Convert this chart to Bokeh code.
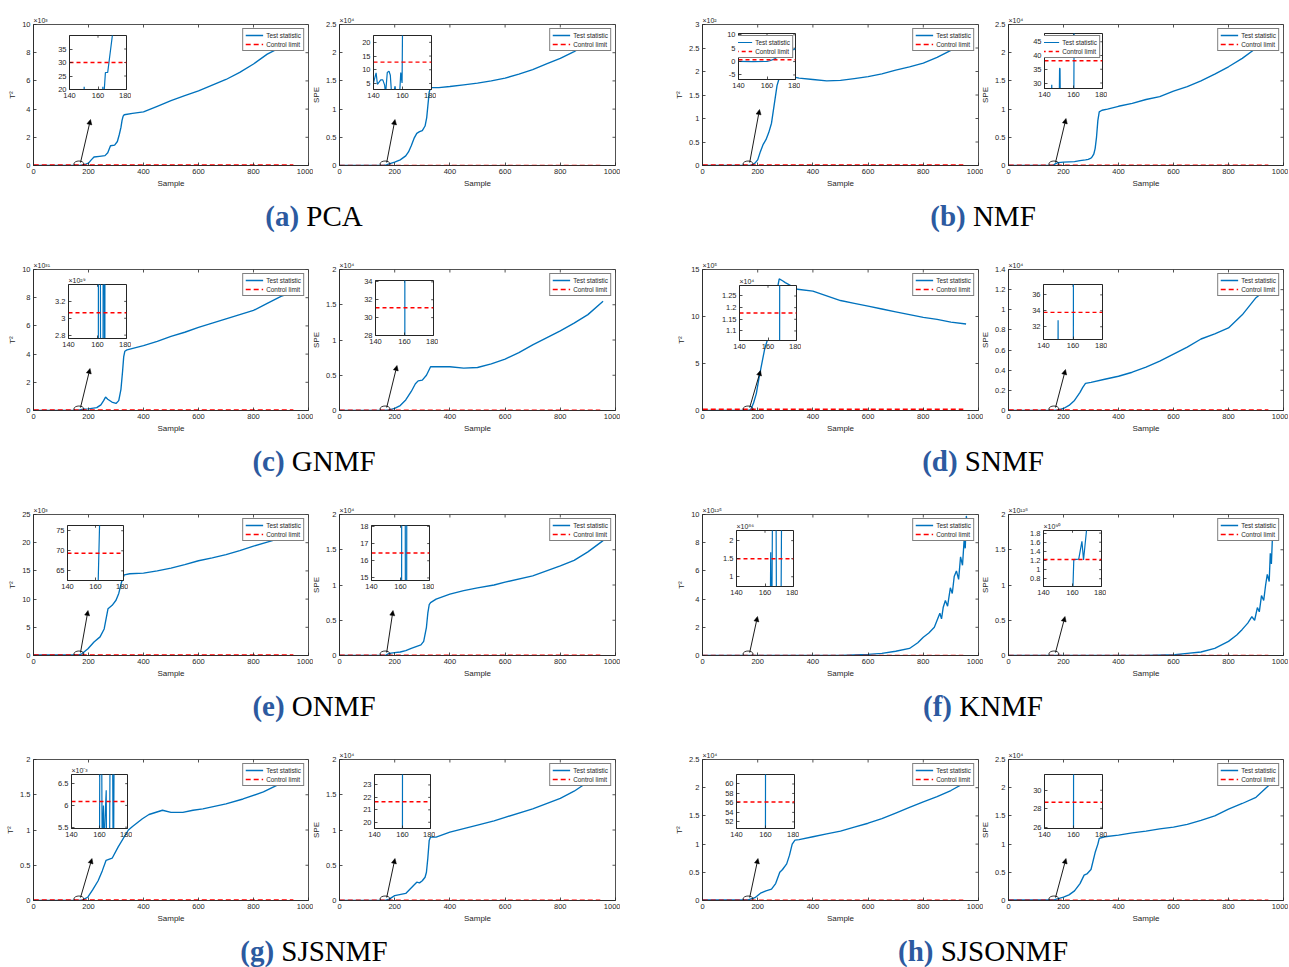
from bokeh.plotting import figure
from bokeh.models import (GridBox, Div, Range1d, FixedTicker, CustomJSTickFormatter,
                          Arrow, NormalHead, LinearAxis, Legend, LegendItem)
from bokeh.embed import file_html
from bokeh.resources import INLINE

try:
    from bokeh.models import GlobalInlineStyleSheet
except Exception:
    GlobalInlineStyleSheet = None

FONT = "Liberation Sans"
BLUE = "#0072BD"
RED = "#FF0000"
DARK = "#262626"

# ---------------- data ----------------
sample_ticks = [0, 200, 400, 600, 800, 1000]
inset_x_ticks = [140, 160, 180]
zoom_x = 165

captions = ["PCA", "NMF", "GNMF", "SNMF", "ONMF", "KNMF", "SJSNMF", "SJSONMF"]
caption_letters = ["(a)", "(b)", "(c)", "(d)", "(e)", "(f)", "(g)", "(h)"]

# (a) PCA
a_t2_x = [1, 160, 170, 180, 190, 200, 210, 220, 240, 260, 270, 280, 295, 305, 312, 318, 322, 326, 330, 360, 400, 450, 500, 550, 600, 650, 700, 750, 800, 850, 900, 960]
a_t2_y = [0, 0, 0.02, 0.05, 0.1, 0.17, 0.4, 0.6, 0.65, 0.7, 0.9, 1.4, 1.45, 1.7, 2.2, 2.7, 3.2, 3.5, 3.6, 3.7, 3.8, 4.2, 4.6, 4.95, 5.3, 5.7, 6.1, 6.6, 7.2, 7.9, 8.4, 9.4]
a_spe_x = [1, 160, 170, 180, 200, 220, 240, 250, 260, 270, 280, 290, 300, 310, 316, 320, 325, 330, 360, 400, 450, 500, 550, 600, 650, 700, 750, 800, 850, 900, 960]
a_spe_y = [0, 0, 0.01, 0.03, 0.06, 0.1, 0.17, 0.24, 0.35, 0.48, 0.57, 0.6, 0.62, 0.7, 0.85, 1.05, 1.3, 1.38, 1.38, 1.4, 1.43, 1.46, 1.5, 1.55, 1.62, 1.7, 1.8, 1.9, 2.02, 2.17, 2.32]
a_t2_in_x = [140, 150.1, 150.3, 150.5, 163.2, 163.4, 163.6, 163.8, 165.2, 166.8, 170.2]
a_t2_in_y = [15, 15, 21, 15, 15, 21, 15, 15, 26.3, 26.3, 40.5]
a_spe_in_x = [140, 141.8, 142.7, 145, 146.4, 147.7, 148.3, 149.5, 150.7, 151.6, 152.5, 153.5, 154.9, 155.5, 158, 158.8, 159.7, 160.1]
a_spe_in_y = [5.2, 8.9, 4.7, 6.3, 6.3, 4.4, 1, 9, 9.5, 8, 1, 1, 4, 1, 1, 9, 5.2, 30]

# (b) NMF
b_t2_x = [1, 170, 180, 190, 200, 210, 220, 230, 240, 250, 260, 270, 280, 290, 300, 350, 400, 450, 500, 550, 600, 650, 700, 750, 800, 850, 900, 960]
b_t2_y = [0.002, 0.002, 0.01, 0.05, 0.12, 0.3, 0.45, 0.55, 0.7, 0.9, 1.3, 1.7, 1.9, 1.95, 1.92, 1.86, 1.83, 1.8, 1.81, 1.85, 1.89, 1.95, 2.03, 2.1, 2.18, 2.3, 2.45, 2.62]
b_spe_x = [1, 160, 170, 180, 200, 220, 240, 260, 280, 290, 300, 305, 310, 315, 320, 325, 330, 340, 360, 400, 450, 500, 550, 600, 650, 700, 750, 800, 850, 900, 960]
b_spe_y = [0, 0, 0.03, 0.05, 0.06, 0.065, 0.07, 0.085, 0.1, 0.11, 0.13, 0.16, 0.2, 0.3, 0.5, 0.8, 0.95, 0.98, 1.0, 1.05, 1.1, 1.17, 1.22, 1.32, 1.4, 1.5, 1.62, 1.75, 1.9, 2.08, 2.32]
b_t2_in_x = [140, 150, 160, 162, 165, 168, 170.5, 172, 174, 175, 176, 177, 179, 180]
b_t2_in_y = [0.1, 0, 0.05, 0.3, 0.9, 2, 2.7, 3.2, 3.6, 4, 3.1, 4.5, 4.5, 5]
b_spe_in_x = [140, 144.8, 145, 145.2, 150.1, 150.4, 150.7, 151, 160.2, 160.5, 180]
b_spe_in_y = [20, 20, 29.4, 20, 20, 35.3, 35.3, 20, 20, 60, 300]

# (c) GNMF
c_t2_x = [1, 160, 180, 200, 230, 245, 255, 262, 270, 285, 300, 310, 318, 324, 328, 332, 340, 400, 450, 500, 550, 600, 650, 700, 750, 800, 850, 900, 960]
c_t2_y = [0, 0, 0.1, 0.12, 0.2, 0.4, 0.7, 0.95, 0.8, 0.6, 0.5, 0.7, 1.5, 2.8, 3.8, 4.2, 4.3, 4.6, 4.9, 5.25, 5.55, 5.9, 6.2, 6.5, 6.8, 7.1, 7.6, 8.1, 8.5]
c_spe_x = [1, 160, 180, 200, 220, 240, 260, 275, 285, 300, 315, 330, 350, 400, 450, 500, 550, 600, 650, 700, 750, 800, 850, 900, 955]
c_spe_y = [0, 0, 0.01, 0.03, 0.07, 0.15, 0.27, 0.38, 0.42, 0.43, 0.5, 0.62, 0.62, 0.62, 0.6, 0.61, 0.66, 0.73, 0.82, 0.93, 1.03, 1.13, 1.24, 1.36, 1.55]
c_t2_in_x = [140, 160.5, 160.7, 161.9, 162.2, 163.7, 164.0, 164.5, 165.0, 165.2, 180]
c_t2_in_y = [1.0, 1.0, 5.0, 5.0, 1.0, 1.0, 5.0, 5.0, 1.0, 5.0, 5.0]
c_spe_in_x = [140, 160.2, 160.5, 180]
c_spe_in_y = [10, 10, 200, 300]

# (d) SNMF
d_t2_x = [1, 165, 175, 185, 195, 205, 217, 225, 235, 250, 265, 278, 290, 300, 344, 400, 450, 500, 550, 600, 650, 700, 750, 800, 850, 900, 955]
d_t2_y = [0.02, 0.02, 0.1, 0.8, 1.8, 3.5, 5.3, 6.5, 7.5, 9.5, 12, 14.0, 13.8, 13.6, 12.9, 12.7, 12.2, 11.7, 11.4, 11.1, 10.8, 10.5, 10.2, 9.9, 9.7, 9.4, 9.2]
d_spe_x = [1, 165, 180, 200, 220, 240, 260, 270, 280, 300, 350, 400, 450, 500, 550, 600, 650, 700, 750, 800, 850, 900, 955]
d_spe_y = [0, 0, 0.005, 0.02, 0.05, 0.1, 0.18, 0.23, 0.27, 0.28, 0.31, 0.34, 0.38, 0.43, 0.49, 0.56, 0.63, 0.71, 0.76, 0.82, 0.95, 1.12, 1.24]
d_t2_in_x = [140, 168.1, 168.4, 180]
d_t2_in_y = [0.5, 0.5, 3, 6]
d_spe_in_x = [140, 149.7, 149.9, 150.1, 160.2, 160.5, 180]
d_spe_in_y = [20, 20, 32.8, 20, 20, 80, 300]

# (e) ONMF
e_t2_x = [1, 165, 176, 198, 220, 242, 257, 271, 286, 300, 310, 320, 330, 350, 400, 450, 500, 550, 600, 650, 700, 750, 800, 850, 900, 955]
e_t2_y = [0.1, 0.1, 0.3, 1.2, 2.4, 3.3, 4.7, 8.3, 8.9, 9.8, 11, 13, 14.3, 14.5, 14.6, 15.0, 15.5, 16.1, 16.8, 17.3, 17.9, 18.6, 19.4, 20.1, 20.8, 21.7]
e_spe_x = [1, 165, 180, 200, 220, 240, 260, 280, 295, 305, 315, 320, 325, 330, 350, 400, 450, 500, 560, 600, 700, 800, 850, 900, 955]
e_spe_y = [0, 0, 0.03, 0.04, 0.05, 0.07, 0.1, 0.13, 0.15, 0.2, 0.4, 0.6, 0.72, 0.75, 0.8, 0.87, 0.92, 0.96, 1.0, 1.04, 1.13, 1.27, 1.35, 1.47, 1.63]
e_t2_in_x = [140, 161.4, 163.3, 180]
e_t2_in_y = [50, 55, 82, 400]
e_spe_in_x = [140, 160.7, 160.9, 163.2, 163.4, 164.2, 164.4, 180]
e_spe_in_y = [10, 10, 25, 25, 10, 10, 25, 25]

# (f) KNMF
f_t2_x = [1, 500, 600, 650, 700, 750, 780, 800, 820, 840, 850, 860, 866, 872, 880, 888, 898, 905, 912, 920, 928, 935, 942, 948, 952, 956, 960]
f_t2_y = [0, 0, 0.08, 0.15, 0.3, 0.5, 0.9, 1.3, 1.6, 2.0, 2.5, 3.0, 2.6, 3.4, 3.9, 3.5, 4.8, 4.4, 5.6, 6.0, 5.4, 7.0, 6.4, 8.2, 7.6, 9.9, 9.0]
f_spe_x = [1, 500, 605, 650, 700, 750, 800, 830, 850, 870, 885, 895, 905, 912, 920, 928, 935, 941, 948, 952, 956, 960]
f_spe_y = [0, 0, 0.01, 0.03, 0.05, 0.1, 0.2, 0.29, 0.37, 0.46, 0.55, 0.5, 0.68, 0.62, 0.85, 0.78, 1.0, 1.15, 1.05, 1.45, 1.3, 1.7]
f_t2_in_x = [140, 163.8, 164.0, 164.2, 164.9, 165.2, 167.8, 168.0, 171.3, 171.6, 180]
f_t2_in_y = [0.5, 0.5, 1.68, 0.5, 0.5, 2.5, 2.5, 0.5, 0.5, 2.5, 2.5]
f_spe_in_x = [140, 160.0, 160.9, 164.3, 166.5, 167.6, 169.8, 180]
f_spe_in_y = [0.3, 0.3, 1.22, 1.23, 1.62, 1.21, 1.9, 2.5]

# (g) SJSNMF
g_t2_x = [1, 165, 180, 198, 215, 235, 250, 264, 286, 308, 345, 360, 396, 420, 469, 500, 543, 580, 616, 700, 762, 836, 909, 955]
g_t2_y = [0, 0, 0.01, 0.05, 0.15, 0.28, 0.42, 0.57, 0.6, 0.76, 1.0, 1.05, 1.16, 1.22, 1.28, 1.25, 1.25, 1.28, 1.3, 1.37, 1.44, 1.54, 1.68, 1.88]
g_spe_x = [1, 165, 180, 200, 240, 270, 280, 290, 300, 310, 315, 320, 325, 330, 350, 400, 450, 500, 560, 600, 700, 800, 850, 900, 955]
g_spe_y = [0, 0, 0.02, 0.07, 0.1, 0.22, 0.26, 0.25, 0.28, 0.33, 0.4, 0.6, 0.85, 0.9, 0.9, 0.97, 1.02, 1.07, 1.13, 1.18, 1.3, 1.45, 1.55, 1.68, 1.84]
g_t2_in_x = [140, 160.0, 160.2, 161.6, 161.9, 162.8, 163.0, 164.8, 165.0, 167.2, 167.5, 169.4, 169.7, 170.1, 170.4, 180]
g_t2_in_y = [5.0, 5.0, 7.0, 7.0, 5.0, 6.0, 5.0, 6.35, 5.0, 5.0, 7.0, 7.0, 5.0, 5.0, 7.0, 7.0]
g_spe_in_x = [140, 159.9, 160.1, 180]
g_spe_in_y = [10, 10, 40, 300]

# (h) SJSONMF
h_t2_x = [1, 165, 190, 210, 230, 250, 265, 280, 290, 305, 315, 325, 335, 350, 400, 450, 500, 550, 600, 650, 700, 750, 800, 850, 900, 955]
h_t2_y = [0.01, 0.01, 0.05, 0.13, 0.17, 0.2, 0.3, 0.5, 0.55, 0.65, 0.8, 1.0, 1.07, 1.08, 1.13, 1.18, 1.23, 1.3, 1.37, 1.45, 1.55, 1.65, 1.75, 1.84, 1.95, 2.1]
h_spe_x = [1, 165, 200, 220, 240, 260, 275, 285, 300, 315, 325, 330, 350, 400, 450, 500, 550, 600, 650, 700, 750, 800, 850, 900, 955]
h_spe_y = [0.01, 0.01, 0.06, 0.1, 0.17, 0.3, 0.45, 0.47, 0.55, 0.85, 1.0, 1.1, 1.13, 1.16, 1.2, 1.23, 1.27, 1.3, 1.35, 1.42, 1.5, 1.62, 1.72, 1.83, 2.08]
h_t2_in_x = [140, 159.9, 160.1, 180]
h_t2_in_y = [30, 30, 90, 300]
h_spe_in_x = [140, 159.9, 160.1, 180]
h_spe_in_y = [10, 10, 40, 300]

# control limits (inset units)
limits = {"a_t2": 30, "a_spe": 12.8, "b_t2": 0.7, "b_spe": 38.1, "c_t2": 3.065, "c_spe": 31.1,
          "d_t2": 1.177, "d_spe": 33.8, "e_t2": 69.4, "e_spe": 16.45, "f_t2": 1.5, "f_spe": 1.22,
          "g_t2": 6.09, "g_spe": 21.65, "h_t2": 56.2, "h_spe": 28.7}

# ---------------- layout spec ----------------
row_tops = [24, 269, 514, 759]
col_frames = {"L_t2": (33, 308), "L_spe": (339, 615), "R_t2": (702, 978), "R_spe": (1008, 1283)}


def P(key, stat, col, row, ymax, yticks, exp, x, y, inset, iyr, iyticks, iexp, ix, iy, ileg=False):
    l, r = col_frames[col]
    t = row_tops[row]
    return dict(key=key, stat=stat, frame=(l, t, r, t + 141), ymax=ymax, yticks=yticks, exp=exp,
                x=x, y=y, inset=inset, iyr=iyr, iyticks=iyticks, iexp=iexp, ix=ix, iy=iy, ileg=ileg)


T2 = "T²"
panels = [
    P("a_t2", T2, "L_t2", 0, 10, [0, 2, 4, 6, 8, 10], 3, a_t2_x, a_t2_y, (53, 33, 127, 105), (20, 40), [20, 25, 30, 35], 0, a_t2_in_x, a_t2_in_y),
    P("a_spe", "SPE", "L_spe", 0, 2.5, [0, 0.5, 1, 1.5, 2, 2.5], 4, a_spe_x, a_spe_y, (357, 33, 432, 105), (2.8, 22.5), [5, 10, 15, 20], 0, a_spe_in_x, a_spe_in_y),
    P("b_t2", T2, "R_t2", 0, 3, [0, 0.5, 1, 1.5, 2, 2.5, 3], 2, b_t2_x, b_t2_y, (722, 31, 796, 95), (-6.7, 10.5), [-5, 0, 5, 10], 0, b_t2_in_x, b_t2_in_y, True),
    P("b_spe", "SPE", "R_spe", 0, 2.5, [0, 0.5, 1, 1.5, 2, 2.5], 4, b_spe_x, b_spe_y, (1028, 31, 1103, 104), (28, 48), [30, 35, 40, 45], 0, b_spe_in_x, b_spe_in_y, True),
    P("c_t2", T2, "L_t2", 1, 10, [0, 2, 4, 6, 8, 10], 31, c_t2_x, c_t2_y, (52, 282, 127, 354), (2.76, 3.4), [2.8, 3, 3.2], 29, c_t2_in_x, c_t2_in_y),
    P("c_spe", "SPE", "L_spe", 1, 2, [0, 0.5, 1, 1.5, 2], 4, c_spe_x, c_spe_y, (359, 278, 434, 351), (28, 34.15), [28, 30, 32, 34], 0, c_spe_in_x, c_spe_in_y),
    P("d_t2", T2, "R_t2", 1, 15, [0, 5, 10, 15], 5, d_t2_x, d_t2_y, (723, 283, 797, 356), (1.059, 1.295), [1.1, 1.15, 1.2, 1.25], 4, d_t2_in_x, d_t2_in_y),
    P("d_spe", "SPE", "R_spe", 1, 1.4, [0, 0.2, 0.4, 0.6, 0.8, 1, 1.2, 1.4], 4, d_spe_x, d_spe_y, (1027, 282, 1103, 355), (30.4, 37.3), [32, 34, 36], 0, d_spe_in_x, d_spe_in_y),
    P("e_t2", T2, "L_t2", 2, 25, [0, 5, 10, 15, 20, 25], 3, e_t2_x, e_t2_y, (51, 523, 124, 596), (62.6, 76.3), [65, 70, 75], 0, e_t2_in_x, e_t2_in_y),
    P("e_spe", "SPE", "L_spe", 2, 2, [0, 0.5, 1, 1.5, 2], 4, e_spe_x, e_spe_y, (355, 523, 430, 596), (14.85, 18.05), [15, 16, 17, 18], 0, e_spe_in_x, e_spe_in_y),
    P("f_t2", T2, "R_t2", 2, 10, [0, 2, 4, 6, 8, 10], 125, f_t2_x, f_t2_y, (720, 528, 794, 602), (0.73, 2.28), [1, 1.5, 2], 86, f_t2_in_x, f_t2_in_y),
    P("f_spe", "SPE", "R_spe", 2, 2, [0, 0.5, 1, 1.5, 2], 128, f_spe_x, f_spe_y, (1027, 528, 1102, 602), (0.63, 1.857), [0.8, 1, 1.2, 1.4, 1.6, 1.8], 90, f_spe_in_x, f_spe_in_y),
    P("g_t2", T2, "L_t2", 3, 2, [0, 0.5, 1, 1.5, 2], 0, g_t2_x, g_t2_y, (55, 772, 128, 844), (5.47, 6.71), [5.5, 6, 6.5], -3, g_t2_in_x, g_t2_in_y),
    P("g_spe", "SPE", "L_spe", 3, 2, [0, 0.5, 1, 1.5, 2], 4, g_spe_x, g_spe_y, (358, 772, 431, 844), (19.5, 23.84), [20, 21, 22, 23], 0, g_spe_in_x, g_spe_in_y),
    P("h_t2", T2, "R_t2", 3, 2.5, [0, 0.5, 1, 1.5, 2, 2.5], 4, h_t2_x, h_t2_y, (720, 772, 795, 844), (50.6, 62), [52, 54, 56, 58, 60], 0, h_t2_in_x, h_t2_in_y),
    P("h_spe", "SPE", "R_spe", 3, 2.5, [0, 0.5, 1, 1.5, 2, 2.5], 4, h_spe_x, h_spe_y, (1028, 772, 1103, 844), (25.87, 31.7), [26, 28, 30], 0, h_spe_in_x, h_spe_in_y),
]

SUP = str.maketrans("-0123456789", "⁻⁰¹²³⁴⁵⁶⁷⁸⁹")


def sup(n):
    if n == 0:
        return ""
    return "×10" + str(n).translate(SUP)


def style_axis(ax, ticks, label=None):
    ax.ticker = FixedTicker(ticks=ticks)
    ax.formatter = CustomJSTickFormatter(code="return String(tick);")
    ax.major_tick_in = 3
    ax.major_tick_out = 0
    ax.minor_tick_in = 0
    ax.minor_tick_out = 0
    ax.axis_line_color = DARK
    ax.axis_line_width = 0.8
    ax.major_tick_line_color = DARK
    ax.major_tick_line_width = 0.8
    ax.major_label_text_font = FONT
    ax.major_label_text_color = DARK
    ax.major_label_text_font_size = "7.5px"
    ax.major_label_standoff = 3
    if label:
        ax.axis_label = label
        ax.axis_label_text_font = FONT
        ax.axis_label_text_font_size = "8px"
        ax.axis_label_text_font_style = "normal"
        ax.axis_label_text_color = DARK
        ax.axis_label_standoff = 2


def boxed_figure(w, h, xr, yr, borders):
    BL, BR, BT, BB = borders
    p = figure(width=w + BL + BR, height=h + BT + BB, x_range=Range1d(*xr), y_range=Range1d(*yr),
               output_backend="svg", toolbar_location=None, x_axis_type=None, y_axis_type=None,
               min_border_left=BL, min_border_right=BR, min_border_top=BT, min_border_bottom=BB,
               border_fill_color=None, background_fill_color="white",
               outline_line_color=DARK, outline_line_width=0.8)
    return p


def add_axes(p, xr, yr, w, h, xticks, yticks, ylabel=None, xlabel=None):
    bx = LinearAxis()
    style_axis(bx, xticks, xlabel)
    p.add_layout(bx, "below")
    ly = LinearAxis()
    style_axis(ly, yticks, ylabel)
    p.add_layout(ly, "left")
    # inward tick marks on the top and right edges of the box
    dy = 3.0 / h * (yr[1] - yr[0])
    dx = 3.0 / w * (xr[1] - xr[0])
    p.segment(x0=xticks, x1=xticks, y0=[yr[1]] * len(xticks), y1=[yr[1] - dy] * len(xticks),
              line_color=DARK, line_width=0.8)
    p.segment(x0=[xr[1]] * len(yticks), x1=[xr[1] - dx] * len(yticks), y0=yticks, y1=yticks,
              line_color=DARK, line_width=0.8)


def set_title(p, text):
    if not text:
        p.title.visible = False
        return
    p.title.text = text
    p.title.align = "left"
    p.title.text_font = FONT
    p.title.text_font_size = "7px"
    p.title.text_font_style = "normal"
    p.title.text_color = DARK
    p.title.standoff = 1
    p.title.offset = 0


def make_legend(r1, r2, margin):
    return Legend(items=[LegendItem(label="Test statistic", renderers=[r1]),
                         LegendItem(label="Control limit", renderers=[r2])],
                  location="top_right", label_text_font=FONT, label_text_font_size="6.4px",
                  label_text_color=DARK, glyph_width=18, glyph_height=8, label_height=8,
                  spacing=1, padding=2, margin=margin, label_standoff=3,
                  border_line_color="black", border_line_width=0.8, background_fill_alpha=1)


mains = []
insets = []
for pn in panels:
    fl, ft, fr, fb = pn["frame"]
    fh = fb - ft
    fw = fr - fl
    BLm, BRm, BTm, BBm = 40, 5, 14, 30
    xr = (0, 1000)
    yr = (0, pn["ymax"])
    p = boxed_figure(fw, fh, xr, yr, (BLm, BRm, BTm, BBm))
    p.margin = (ft - BTm, 0, 0, fl - BLm)
    add_axes(p, xr, yr, fw, fh, sample_ticks, pn["yticks"], ylabel=pn["stat"], xlabel="Sample")
    set_title(p, sup(pn["exp"]))
    lim_main = limits[pn["key"]] * 10.0 ** (pn["iexp"] - pn["exp"])
    r1 = p.line(pn["x"], pn["y"], line_color=BLUE, line_width=1.35)
    r2 = p.line([1, 945], [lim_main, lim_main], line_color=RED, line_width=1.6, line_dash="5 3")
    p.ellipse(x=[zoom_x], y=[1.5 / fh * pn["ymax"]], width=10, height=6,
              width_units="screen", height_units="screen",
              fill_color=None, line_color="black", line_width=0.8)
    il, it, ir, ib = pn["inset"]
    tip_x = (il + ir) / 2.0
    tip_y = ib + 14
    p.add_layout(Arrow(end=NormalHead(size=5, fill_color="black", line_color="black", line_width=0.5),
                       x_start=171, y_start=3.0 / fh * pn["ymax"],
                       x_end=(tip_x - fl) / fw * 1000.0, y_end=(fb - tip_y) / fh * pn["ymax"],
                       line_color="black", line_width=0.9))
    p.add_layout(make_legend(r1, r2, 4))
    mains.append(p)

    # inset
    BLi, BRi, BTi, BBi = 24, 4, 12, 14
    iw = ir - il
    ih = ib - it
    q = boxed_figure(iw, ih, (140, 180), pn["iyr"], (BLi, BRi, BTi, BBi))
    q.outline_line_width = 1.0
    q.margin = (it - BTi, 0, 0, il - BLi)
    add_axes(q, (140, 180), pn["iyr"], iw, ih, inset_x_ticks, pn["iyticks"])
    set_title(q, sup(pn["iexp"]))
    lim = limits[pn["key"]]
    s1 = q.line(pn["ix"], pn["iy"], line_color=BLUE, line_width=1.2)
    s2 = q.line([140, 180], [lim, lim], line_color=RED, line_width=1.4, line_dash="4 3")
    if pn["ileg"]:
        q.add_layout(make_legend(s1, s2, 2))
    insets.append(q)

divs = []
for i, (let, name) in enumerate(zip(caption_letters, captions)):
    row = i // 2
    cx = 314 if i % 2 == 0 else 983
    top = 201 + 245 * row
    html = ('<div style="width:400px;font-family:\'Liberation Serif\',\'Times New Roman\',serif;font-size:29px;'
            'line-height:30px;text-align:center;color:#000;white-space:nowrap">'
            '<span style="color:#2c5aa0;font-weight:bold">%s</span> %s</div>' % (let, name))
    d = Div(text=html, width=400, height=30, margin=(top, 0, 0, cx - 200))
    divs.append(d)

children = [(c, 0, 0) for c in mains + insets + divs]
root = GridBox(children=children, width=1289, height=967)
if GlobalInlineStyleSheet is not None:
    root.stylesheets = [GlobalInlineStyleSheet(css="html,body{margin:0;padding:0;overflow:hidden;}")]

open("out.html", "w").write(file_html(root, INLINE))
